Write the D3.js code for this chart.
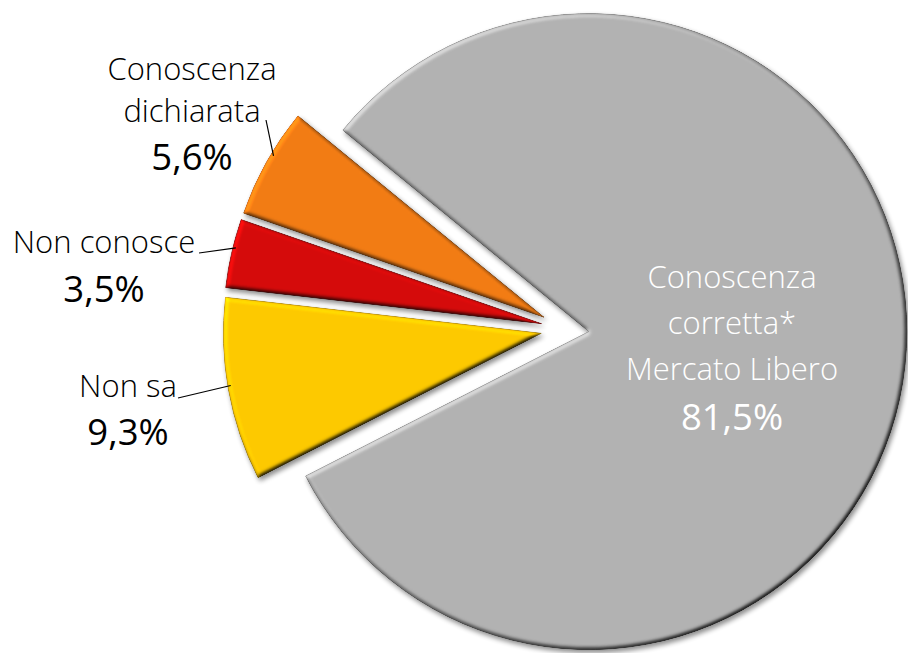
<!DOCTYPE html>
<html>
<head>
<meta charset="utf-8">
<script src="https://cdn.jsdelivr.net/npm/d3@7/dist/d3.min.js"></script>
<style>
  html, body { margin: 0; padding: 0; background: #ffffff; }
  svg { display: block; }
</style>
</head>
<body>
<svg id="chart" width="908" height="653"></svg>
<script>
// ---- data ----
const categories = ["Conoscenza corretta* Mercato Libero", "Non sa", "Non conosce", "Conoscenza dichiarata"];
const values = [81.5, 9.3, 3.5, 5.6];
const valueLabels = ["81,5%", "9,3%", "3,5%", "5,6%"];
const nameLines = [["Conoscenza", "corretta*", "Mercato Libero"], ["Non sa"], ["Non conosce"], ["Conoscenza", "dichiarata"]];

// ---- styles / layout ----
const fills   = ["#b2b2b2", "#fdc900", "#d50b0b", "#f27c14"];
const strokes = ["#8e8e8e", "#c79a00", "#8f0505", "#b85c0c"];
const W = 908, H = 653;
const cx = 565, cy = 329, R = 318, explode = 24;
const startDeg = -50.7;

const svg = d3.select("#chart");
const defs = svg.append("defs");
const f = defs.append("filter").attr("id", "bevel")
  .attr("x", "-10%").attr("y", "-10%").attr("width", "125%").attr("height", "125%")
  .attr("color-interpolation-filters", "sRGB");
f.append("feGaussianBlur").attr("in", "SourceAlpha").attr("stdDeviation", 2.2).attr("result", "b");
f.append("feDiffuseLighting").attr("in", "b").attr("surfaceScale", 3).attr("diffuseConstant", 1)
  .attr("lighting-color", "#ffffff").attr("result", "d")
  .append("feDistantLight").attr("azimuth", 225).attr("elevation", 55);
f.append("feComposite").attr("in", "SourceGraphic").attr("in2", "d").attr("operator", "arithmetic")
  .attr("k1", 1.22).attr("k2", 0).attr("k3", 0).attr("k4", 0).attr("result", "lit");
f.append("feComposite").attr("in", "lit").attr("in2", "SourceAlpha").attr("operator", "in").attr("result", "litc");
f.append("feGaussianBlur").attr("in", "SourceAlpha").attr("stdDeviation", 2.5).attr("result", "sb");
f.append("feOffset").attr("in", "sb").attr("dx", 2).attr("dy", 3).attr("result", "so");
f.append("feComponentTransfer").attr("in", "so").attr("result", "sh")
  .append("feFuncA").attr("type", "linear").attr("slope", 0.45);
const fm = f.append("feMerge");
fm.append("feMergeNode").attr("in", "sh");
fm.append("feMergeNode").attr("in", "litc");

const rad = d => d * Math.PI / 180;
const pie = d3.pie().sort(null).value(d => d)
  .startAngle(rad(startDeg)).endAngle(rad(startDeg) + 2 * Math.PI);
const arcs = pie(values);
const arc = d3.arc().innerRadius(0).outerRadius(R);

const offsetOf = a => {
  const m = (a.startAngle + a.endAngle) / 2;
  return [Math.sin(m) * explode, -Math.cos(m) * explode];
};

const g = svg.append("g").attr("transform", `translate(${cx},${cy})`);
g.selectAll("path.slice").data(arcs).enter().append("path")
  .attr("class", "slice")
  .attr("d", arc)
  .attr("transform", d => { const o = offsetOf(d); return `translate(${o[0]},${o[1]})`; })
  .attr("fill", (d, i) => fills[i])
  .attr("stroke", (d, i) => strokes[i])
  .attr("stroke-width", 0.8)
  .attr("filter", "url(#bevel)");

// ---- labels ----
const font = "'Open Sans', 'DejaVu Sans', sans-serif";
// label layout: text centre x, first baseline y, line height, percent baseline, leader start (label side), leader angle tweak (deg)
const layout = [
  { x: 732, y: 288, lh: 46, py: 430, color: "#ffffff", leader: null },
  { x: 128, y: 397, lh: 0, py: 445, color: "#000000", leader: [178, 398], tweak: 0.7 },
  { x: 104, y: 253, lh: 0, py: 302, color: "#000000", leader: [199, 253], tweak: 1.1 },
  { x: 192, y: 80, lh: 42, py: 170, color: "#000000", leader: [266, 120], tweak: 1.6 }
];

arcs.forEach((a, i) => {
  const L = layout[i];
  const t = svg.append("text")
    .attr("text-anchor", "middle")
    .attr("font-family", font)
    .attr("font-weight", 300)
    .attr("font-size", 31)
    .attr("fill", L.color);
  nameLines[i].forEach((line, k) => {
    t.append("tspan").attr("x", L.x).attr("y", L.y + k * L.lh).text(line);
  });
  svg.append("text")
    .attr("x", L.x).attr("y", L.py)
    .attr("text-anchor", "middle")
    .attr("font-family", font)
    .attr("font-size", 36.5)
    .attr("fill", L.color)
    .text(valueLabels[i]);
  if (L.leader) {
    const o = offsetOf(a);
    const m = (a.startAngle + a.endAngle) / 2 + rad(L.tweak);
    const ex = cx + o[0] + Math.sin(m) * (R - 3);
    const ey = cy + o[1] - Math.cos(m) * (R - 3);
    svg.append("line")
      .attr("x1", L.leader[0]).attr("y1", L.leader[1])
      .attr("x2", ex).attr("y2", ey)
      .attr("stroke", "#000000").attr("stroke-width", 1.2);
  }
});
</script>
</body>
</html>
